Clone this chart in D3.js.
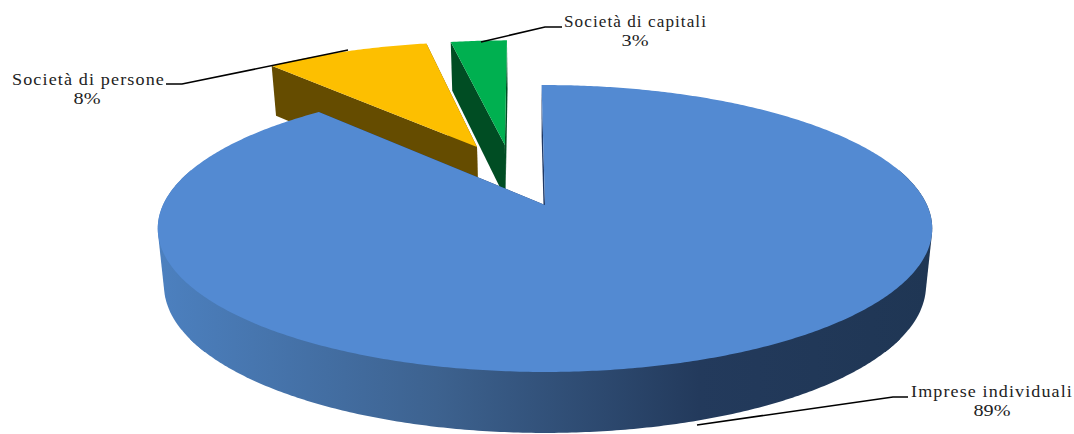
<!DOCTYPE html>
<html><head><meta charset="utf-8">
<script src="https://cdn.jsdelivr.net/npm/d3@7"></script>
<style>html,body{margin:0;padding:0;background:#fff}svg{display:block}
text{font-family:"Liberation Serif",serif;fill:#222;text-anchor:middle}</style></head>
<body><svg id="c" width="1074" height="434"></svg>
<script>
const categories=["Imprese individuali","Società di persone","Società di capitali"];
const labels=["89%","8%","3%"];
const values=[88.6,8.49,2.91];
const topColors=["#538ad2","#fdbf00","#00b050"];
const wallColors=["#1f3864","#654c00","#004d23"];
const offsets=[[0,0],[-0.191,-0.446],[-0.113,-0.462]];
const labelX=[992,88.5,635.5], labelY=[397,85,27];
const percentX=[992,87,635];
const nameWidth=[162,153,143], percentWidth=[37,27,27];
const leaders=[[[908,397],[893,397],[697,425]],[[166,84],[182,84],[348,50]],[[562,27],[545,27],[481,42]]];
const wallRanges=[[75,125],[120,240],[235,285]];

const cx=545,cy=205,a=382,b=139.6,k=0.1638;
const svg=d3.select("#c");
const deg=Math.PI/180;
const pie=d3.pie().sort(null).value(d=>d).startAngle(-0.6*deg).endAngle(359.4*deg);
const arcs=pie(values);
const grad=svg.append("defs").append("linearGradient").attr("id","g").attr("gradientUnits","userSpaceOnUse")
  .attr("x1",160).attr("x2",930).attr("y1",0).attr("y2",0);
[[0,"#4c80bf"],[.36,"#3d628f"],[.7,"#233a5c"],[1,"#1f3654"]].forEach(s=>grad.append("stop").attr("offset",s[0]).attr("stop-color",s[1]));

function projTop(X,Y){const d=1-k*Y;return [cx+a*X/d,cy+b*Y/d];}
function projBottom(X,Y){const p=projTop(X,Y);return [cx+(p[0]-cx)*0.984,p[1]+56+5*Y];}
const line=d3.line();
function rim(o,t0,t1,fn){const n=Math.max(2,Math.ceil((t1-t0)/0.01));
  return d3.range(n+1).map(i=>{const t=t0+(t1-t0)*i/n;return fn(o[0]+Math.sin(t),o[1]-Math.cos(t));});}
function wall(o,t){const A=o,B=[o[0]+Math.sin(t),o[1]-Math.cos(t)];
  return [projTop(A[0],A[1]),projTop(B[0],B[1]),projBottom(B[0],B[1]),projBottom(A[0],A[1])];}

[2,1,0].forEach(i=>{
  const d=arcs[i],o=offsets[i],t0=d.startAngle,t1=d.endAngle;
  const g=svg.append("g");
  g.append("path").attr("d",line(wall(o,t1))+"Z").attr("fill",wallColors[i]);
  g.append("path").attr("d",line(wall(o,t0))+"Z").attr("fill",wallColors[i]);
  if(i===0){
    wallRanges.forEach(r=>{
      const hull=d3.polygonHull(rim(o,r[0]*deg,r[1]*deg,projTop).concat(rim(o,r[0]*deg,r[1]*deg,projBottom)));
      g.append("path").attr("d",line(hull)+"Z").attr("fill","url(#g)");
    });
  }
  g.append("path").attr("d",line([projTop(o[0],o[1])].concat(rim(o,t0,t1,projTop)))+"Z").attr("fill",topColors[i]);
});
leaders.forEach(l=>svg.append("path").attr("d",line(l)).attr("fill","none").attr("stroke","#000").attr("stroke-width",1.6));
categories.forEach((c,i)=>{
  svg.append("text").attr("x",labelX[i]).attr("y",labelY[i]).attr("font-size",16).attr("letter-spacing",1)
    .attr("textLength",nameWidth[i]).attr("lengthAdjust","spacingAndGlyphs").text(c);
  svg.append("text").attr("x",percentX[i]).attr("y",labelY[i]+18.5).attr("font-size",16)
    .attr("textLength",percentWidth[i]).attr("lengthAdjust","spacingAndGlyphs").text(labels[i]);
});
</script></body></html>
